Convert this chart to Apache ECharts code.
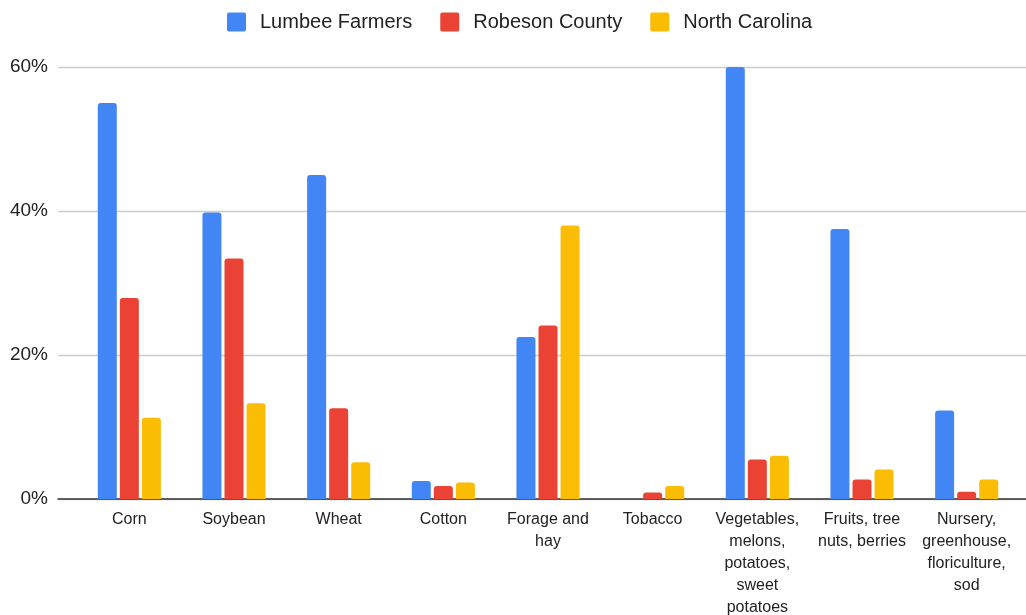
<!DOCTYPE html>
<html>
<head>
<meta charset="utf-8">
<script src="https://cdn.jsdelivr.net/npm/echarts@6/dist/echarts.min.js"></script>
<style>
  html, body { margin: 0; padding: 0; background: #ffffff; }
  #chart { width: 1026px; height: 615px; }
</style>
</head>
<body>
<div id="chart"></div>
<script>
// Share of farms producing each commodity group
const categories = [
  'Corn',
  'Soybean',
  'Wheat',
  'Cotton',
  'Forage and\nhay',
  'Tobacco',
  'Vegetables,\nmelons,\npotatoes,\nsweet\npotatoes',
  'Fruits, tree\nnuts, berries',
  'Nursery,\ngreenhouse,\nfloriculture,\nsod'
];
const seriesNames = ['Lumbee Farmers', 'Robeson County', 'North Carolina'];
const lumbeeFarmers = [55.0, 39.8, 45.0, 2.5, 22.5, 0, 60.0, 37.5, 12.3];
const robesonCounty = [27.9, 33.4, 12.6, 1.8, 24.1, 0.9, 5.5, 2.7, 1.0];
const northCarolina = [11.3, 13.3, 5.1, 2.3, 38.0, 1.8, 6.0, 4.1, 2.7];
const yTicks = { min: 0, max: 60, interval: 20 };

const colors = ['#4285F4', '#EA4335', '#FBBC04'];
const font = '"Liberation Sans", Arial, sans-serif';

const chart = echarts.init(document.getElementById('chart'), null, { renderer: 'canvas' });

function barSeries(name, data, color) {
  return {
    name: name,
    type: 'bar',
    xAxisIndex: 1,
    yAxisIndex: 1,
    data: data,
    barWidth: 19,
    barGap: '16%',
    itemStyle: { color: color, borderRadius: [3, 3, 0, 0] }
  };
}

chart.setOption({
  animation: false,
  color: colors,
  textStyle: { fontFamily: font },
  legend: {
    data: seriesNames,
    left: 222,
    top: 7,
    icon: 'path://M2,0 L17,0 Q19,0 19,2 L19,17 Q19,19 17,19 L2,19 Q0,19 0,17 L0,2 Q0,0 2,0 Z',
    itemWidth: 19,
    itemHeight: 19,
    itemGap: 28,
    textStyle: {
      fontFamily: font,
      fontSize: 20,
      color: '#222222',
      padding: [0, 0, 0, 9]
    }
  },
  grid: [
    // frame for value axis labels, gridlines and baseline
    { left: 58, right: 0, top: 67, bottom: 116, containLabel: false, outerBoundsMode: 'none' },
    // frame for the bars and category labels
    { left: 77, width: 942, top: 67, bottom: 116, containLabel: false, outerBoundsMode: 'none' }
  ],
  xAxis: [
    {
      gridIndex: 0,
      type: 'category',
      data: [''],
      axisLine: { show: true, lineStyle: { color: '#333333', width: 1.5 } },
      axisTick: { show: false },
      axisLabel: { show: false }
    },
    {
      gridIndex: 1,
      type: 'category',
      data: categories,
      axisLine: { show: false },
      axisTick: { show: false },
      axisLabel: {
        interval: 0,
        margin: 10,
        fontFamily: font,
        fontSize: 16,
        lineHeight: 22,
        color: '#222222',
        align: 'center',
        verticalAlign: 'top'
      }
    }
  ],
  yAxis: [
    {
      gridIndex: 0,
      type: 'value',
      min: yTicks.min,
      max: yTicks.max,
      interval: yTicks.interval,
      axisLine: { show: false },
      axisTick: { show: false },
      axisLabel: {
        margin: 10,
        fontFamily: font,
        fontSize: 19,
        color: '#222222',
        formatter: '{value}%',
        padding: [3, 0, 0, 0]
      },
      splitLine: { show: true, lineStyle: { color: '#cccccc', width: 1.3 } }
    },
    {
      gridIndex: 1,
      type: 'value',
      min: yTicks.min,
      max: yTicks.max,
      interval: yTicks.interval,
      axisLine: { show: false },
      axisTick: { show: false },
      axisLabel: { show: false },
      splitLine: { show: false }
    }
  ],
  series: [
    barSeries(seriesNames[0], lumbeeFarmers, colors[0]),
    barSeries(seriesNames[1], robesonCounty, colors[1]),
    barSeries(seriesNames[2], northCarolina, colors[2])
  ]
});
</script>
</body>
</html>
